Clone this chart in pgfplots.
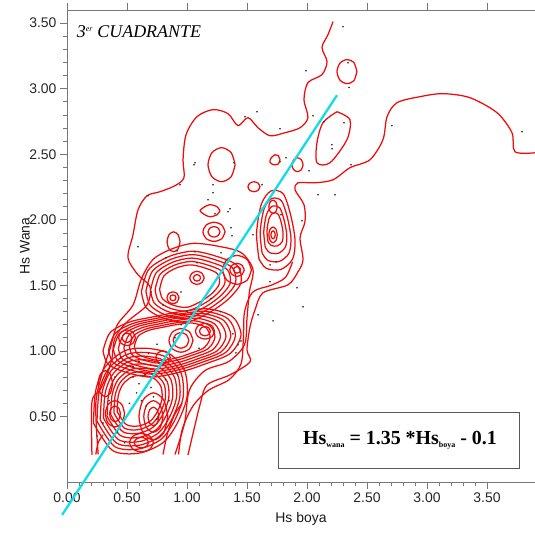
\documentclass[border=0pt]{standalone}
\usepackage{pgfplots}
\pgfplotsset{compat=1.18}
\usepackage{fontspec}
\setmainfont{Liberation Sans}
\newfontfamily\serif{Liberation Serif}
\definecolor{axgray}{RGB}{120,120,120}
\definecolor{cyanline}{RGB}{20,220,230}
\definecolor{ctred}{RGB}{240,10,10}
\begin{document}
\begin{tikzpicture}
\path[use as bounding box] (-67bp,-51bp) rectangle (468bp,482bp);
\begin{axis}[
  at={(0,0)}, anchor=south west,
  scale only axis, width=468bp, height=472bp,
  xmin=0, xmax=3.9, ymin=0, ymax=3.6,
  axis y line*=left, axis x line*=bottom,
  axis line style={axgray, line width=0.8bp, -},
  xtick={0,0.5,...,3.5}, ytick={0.5,1,...,3.5},
  minor x tick num=4, minor y tick num=4,
  tick align=outside,
  major tick length=7bp, minor tick length=4bp,
  tick style={axgray, line width=0.7bp},
  /pgf/number format/assume math mode=true,
  /pgf/number format/.cd, fixed, fixed zerofill, precision=2, /pgfplots/.cd,
  ticklabel style={font=\fontsize{14}{16}\selectfont, text=black!85},
  xlabel={Hs boya}, ylabel={Hs Wana},
  label style={font=\fontsize{14}{16}\selectfont, text=black!90},
  xlabel style={at={(axis description cs:0.5,0)}, anchor=north, yshift=-30bp, inner sep=0pt},
  ylabel style={at={(axis description cs:0,0.5)}, anchor=center, yshift=42bp, inner sep=0pt},
  clip=false,
  ct/.style={ctred, line width=1.25bp, smooth, mark=none},
]
% ---- outer contour, two branches
\addplot[ct] coordinates {(2.217,3.511)(2.175,3.412)(2.125,3.313)(2.167,3.206)(2.125,3.107)(2.008,3.046)(1.975,2.916)(2.008,2.779)(1.942,2.702)(1.817,2.664)(1.692,2.641)(1.592,2.702)(1.508,2.779)(1.425,2.718)(1.342,2.809)(1.217,2.840)(1.083,2.786)(0.992,2.649)(0.967,2.458)(0.975,2.321)(0.900,2.260)(0.775,2.214)(0.667,2.183)(0.592,2.076)(0.550,1.885)(0.508,1.710)(0.592,1.580)(0.692,1.489)(0.667,1.351)(0.500,1.221)(0.400,1.099)(0.375,0.947)(0.342,0.840)(0.275,0.702)(0.208,0.611)(0.208,0.206)};
\addplot[ct] coordinates {(3.9,2.511)(3.733,2.519)(3.708,2.664)(3.583,2.817)(3.358,2.931)(3.133,2.962)(2.942,2.939)(2.750,2.893)(2.667,2.786)(2.633,2.611)(2.525,2.458)(2.358,2.397)(2.217,2.305)(2.067,2.282)(1.925,2.282)(1.900,2.229)(1.975,2.115)(1.983,1.985)(1.942,1.863)(1.967,1.695)(1.925,1.603)(1.842,1.504)(1.633,1.443)(1.567,1.313)(1.525,1.183)(1.500,1.008)(1.525,0.916)(1.358,0.817)(1.167,0.740)(1.108,0.588)(1.067,0.435)(1.008,0.206)};
% ---- right arm ellipse and small circle
\addplot[ct] coordinates {(2.25,2.824)(2.358,2.763)(2.333,2.611)(2.192,2.435)(2.083,2.435)(2.083,2.588)(2.133,2.740)(2.25,2.824)};
\addplot[ct] coordinates {(2.416,3.13)(2.39,3.20)(2.333,3.222)(2.275,3.195)(2.25,3.13)(2.275,3.065)(2.333,3.038)(2.39,3.06)(2.416,3.13)};
% ---- upper middle loops
\addplot[ct] coordinates {(1.401,2.42)(1.368,2.512)(1.288,2.55)(1.208,2.512)(1.175,2.42)(1.208,2.328)(1.288,2.29)(1.368,2.328)(1.401,2.42)};
\addplot[ct] coordinates {(1.775,2.458)(1.76,2.49)(1.733,2.496)(1.70,2.47)(1.691,2.44)(1.72,2.42)(1.76,2.425)(1.775,2.458)};
\addplot[ct] coordinates {(1.967,2.42)(1.954,2.457)(1.921,2.473)(1.888,2.457)(1.875,2.42)(1.888,2.383)(1.921,2.367)(1.954,2.383)(1.967,2.42)};
\addplot[ct] coordinates {(1.608,2.252)(1.593,2.279)(1.558,2.29)(1.523,2.279)(1.508,2.252)(1.523,2.225)(1.558,2.214)(1.593,2.225)(1.608,2.252)};
\addplot[ct] coordinates {(1.275,2.069)(1.25,2.10)(1.19,2.115)(1.14,2.095)(1.109,2.069)(1.14,2.043)(1.19,2.023)(1.25,2.038)(1.275,2.069)};
\addplot[ct] coordinates {(1.317,1.908)(1.29,1.96)(1.225,1.981)(1.16,1.96)(1.133,1.908)(1.16,1.856)(1.225,1.835)(1.29,1.856)(1.317,1.908)};
\addplot[ct] coordinates {(1.275,1.908)(1.26,1.936)(1.225,1.948)(1.19,1.936)(1.175,1.908)(1.19,1.88)(1.225,1.868)(1.26,1.88)(1.275,1.908)};
\addplot[ct] coordinates {(0.942,1.832)(0.926,1.886)(0.888,1.908)(0.85,1.886)(0.834,1.832)(0.85,1.778)(0.888,1.756)(0.926,1.778)(0.942,1.832)};
% ---- right peak group
\addplot[ct] coordinates {(1.60,1.70)(1.58,1.90)(1.62,2.12)(1.70,2.22)(1.80,2.20)(1.86,2.05)(1.90,1.85)(1.88,1.70)(1.78,1.62)(1.66,1.63)(1.60,1.70)};
\addplot[ct] coordinates {(1.626,1.746)(1.61,1.906)(1.642,2.082)(1.706,2.162)(1.786,2.146)(1.834,2.026)(1.866,1.866)(1.85,1.746)(1.77,1.682)(1.674,1.69)(1.626,1.746)};
\addplot[ct] coordinates {(1.652,1.792)(1.64,1.912)(1.664,2.044)(1.712,2.104)(1.772,2.092)(1.808,2.002)(1.832,1.882)(1.82,1.792)(1.76,1.744)(1.688,1.75)(1.652,1.792)};
\addplot[ct] coordinates {(1.675,1.833)(1.667,1.917)(1.684,2.010)(1.717,2.052)(1.759,2.043)(1.785,1.980)(1.801,1.896)(1.793,1.833)(1.751,1.800)(1.701,1.804)(1.675,1.833)};
\addplot[ct] coordinates {(1.752,2.099)(1.742,2.134)(1.717,2.149)(1.692,2.134)(1.682,2.099)(1.692,2.064)(1.717,2.049)(1.742,2.064)(1.752,2.099)};
\addplot[ct] coordinates {(1.752,1.885)(1.742,1.927)(1.717,1.945)(1.692,1.927)(1.682,1.885)(1.692,1.843)(1.717,1.825)(1.742,1.843)(1.752,1.885)};
\addplot[ct] coordinates {(1.735,1.885)(1.73,1.906)(1.717,1.915)(1.704,1.906)(1.699,1.885)(1.704,1.864)(1.717,1.855)(1.73,1.864)(1.735,1.885)};
% ---- group A
\addplot[ct] coordinates {(0.62,1.45)(0.68,1.62)(0.85,1.72)(1.05,1.76)(1.25,1.72)(1.42,1.65)(1.45,1.52)(1.35,1.40)(1.20,1.30)(1.00,1.22)(0.80,1.25)(0.66,1.33)(0.62,1.45)};
\addplot[ct] coordinates {(0.658,1.455)(0.712,1.608)(0.865,1.698)(1.045,1.734)(1.225,1.698)(1.378,1.635)(1.405,1.518)(1.315,1.41)(1.18,1.32)(1.0,1.248)(0.82,1.275)(0.694,1.347)(0.658,1.455)};
\addplot[ct] coordinates {(0.696,1.46)(0.744,1.596)(0.88,1.676)(1.04,1.708)(1.2,1.676)(1.336,1.62)(1.36,1.516)(1.28,1.42)(1.16,1.34)(1.0,1.276)(0.84,1.30)(0.728,1.364)(0.696,1.46)};
\addplot[ct] coordinates {(0.734,1.465)(0.776,1.584)(0.895,1.654)(1.035,1.682)(1.175,1.654)(1.294,1.605)(1.315,1.514)(1.245,1.43)(1.14,1.36)(1.0,1.304)(0.86,1.325)(0.762,1.381)(0.734,1.465)};
\addplot[ct] coordinates {(0.772,1.47)(0.808,1.572)(0.91,1.632)(1.03,1.656)(1.15,1.632)(1.252,1.59)(1.27,1.512)(1.21,1.44)(1.12,1.38)(1.0,1.332)(0.88,1.35)(0.796,1.398)(0.772,1.47)};
% ---- group B
\addplot[ct] coordinates {(0.30,1.00)(0.36,1.14)(0.52,1.22)(0.72,1.26)(0.95,1.30)(1.18,1.32)(1.38,1.26)(1.45,1.12)(1.36,0.98)(1.15,0.90)(0.95,0.84)(0.70,0.80)(0.48,0.84)(0.34,0.90)(0.30,1.00)};
\addplot[ct] coordinates {(0.346,1.006)(0.402,1.135)(0.549,1.209)(0.733,1.246)(0.944,1.282)(1.156,1.301)(1.34,1.246)(1.404,1.117)(1.322,0.988)(1.128,0.914)(0.944,0.859)(0.714,0.822)(0.512,0.859)(0.383,0.914)(0.346,1.006)};
\addplot[ct] coordinates {(0.387,1.012)(0.438,1.131)(0.574,1.199)(0.744,1.233)(0.940,1.267)(1.135,1.284)(1.305,1.233)(1.365,1.114)(1.288,0.995)(1.110,0.927)(0.940,0.876)(0.727,0.842)(0.540,0.876)(0.421,0.927)(0.387,1.012)};
\addplot[ct] coordinates {(0.428,1.018)(0.474,1.127)(0.599,1.189)(0.755,1.220)(0.935,1.252)(1.114,1.267)(1.27,1.220)(1.325,1.111)(1.254,1.002)(1.091,0.940)(0.935,0.893)(0.740,0.862)(0.568,0.893)(0.459,0.940)(0.428,1.018)};
\addplot[ct] coordinates {(0.474,1.024)(0.516,1.122)(0.628,1.178)(0.768,1.206)(0.929,1.234)(1.09,1.248)(1.23,1.206)(1.279,1.108)(1.216,1.01)(1.069,0.954)(0.929,0.912)(0.754,0.884)(0.60,0.912)(0.502,0.954)(0.474,1.024)};
\addplot[ct] coordinates {(0.52,1.03)(0.558,1.117)(0.657,1.167)(0.781,1.192)(0.923,1.216)(1.066,1.229)(1.19,1.192)(1.233,1.105)(1.178,1.018)(1.047,0.968)(0.923,0.931)(0.768,0.906)(0.632,0.931)(0.545,0.968)(0.52,1.03)};
\addplot[ct] coordinates {(0.561,1.036)(0.594,1.113)(0.682,1.157)(0.792,1.179)(0.9185,1.201)(1.045,1.212)(1.155,1.179)(1.1935,1.102)(1.144,1.025)(1.0285,0.981)(0.9185,0.948)(0.781,0.926)(0.66,0.948)(0.583,0.981)(0.561,1.036)};
% ---- group C
\addplot[ct] coordinates {(0.22,0.45)(0.24,0.70)(0.32,0.88)(0.48,1.00)(0.66,1.02)(0.85,0.98)(0.98,0.85)(1.00,0.65)(0.92,0.45)(0.80,0.30)(0.60,0.22)(0.38,0.24)(0.22,0.45)};
\addplot[ct] coordinates {(0.250,0.464)(0.269,0.694)(0.342,0.859)(0.490,0.970)(0.655,0.988)(0.830,0.951)(0.950,0.832)(0.968,0.648)(0.894,0.464)(0.784,0.326)(0.60,0.252)(0.398,0.270)(0.250,0.464)};
\addplot[ct] coordinates {(0.277,0.475)(0.294,0.688)(0.362,0.841)(0.498,0.943)(0.651,0.96)(0.8125,0.926)(0.923,0.8155)(0.94,0.6455)(0.872,0.4755)(0.77,0.348)(0.60,0.28)(0.413,0.297)(0.277,0.475)};
\addplot[ct] coordinates {(0.304,0.487)(0.319,0.682)(0.382,0.823)(0.506,0.916)(0.647,0.932)(0.795,0.901)(0.896,0.799)(0.912,0.643)(0.850,0.487)(0.756,0.370)(0.60,0.308)(0.428,0.324)(0.304,0.487)};
\addplot[ct] coordinates {(0.334,0.501)(0.348,0.676)(0.404,0.802)(0.516,0.886)(0.642,0.90)(0.775,0.872)(0.866,0.781)(0.88,0.641)(0.824,0.501)(0.74,0.396)(0.60,0.34)(0.446,0.354)(0.334,0.501)};
\addplot[ct] coordinates {(0.364,0.515)(0.377,0.670)(0.426,0.781)(0.526,0.856)(0.637,0.868)(0.755,0.843)(0.836,0.763)(0.848,0.639)(0.798,0.515)(0.724,0.422)(0.60,0.372)(0.464,0.384)(0.364,0.515)};
\addplot[ct] coordinates {(0.391,0.5265)(0.402,0.664)(0.446,0.763)(0.534,0.829)(0.633,0.84)(0.7375,0.818)(0.809,0.7465)(0.82,0.6365)(0.776,0.5265)(0.71,0.444)(0.60,0.40)(0.479,0.411)(0.391,0.5265)};
\addplot[ct] coordinates {(0.418,0.538)(0.427,0.658)(0.466,0.745)(0.542,0.802)(0.629,0.812)(0.72,0.793)(0.782,0.730)(0.792,0.634)(0.754,0.538)(0.696,0.466)(0.60,0.428)(0.494,0.438)(0.418,0.538)};
% ---- extra nested loops in the dense cluster
\addplot[ct] coordinates {(0.84,0.50)(0.805,0.627)(0.72,0.68)(0.635,0.627)(0.60,0.50)(0.635,0.373)(0.72,0.32)(0.805,0.373)(0.84,0.50)};
\addplot[ct] coordinates {(0.80,0.50)(0.777,0.585)(0.72,0.62)(0.663,0.585)(0.64,0.50)(0.663,0.415)(0.72,0.38)(0.777,0.415)(0.80,0.50)};
\addplot[ct] coordinates {(0.765,0.50)(0.752,0.55)(0.72,0.57)(0.688,0.55)(0.675,0.50)(0.688,0.45)(0.72,0.43)(0.752,0.45)(0.765,0.50)};
\addplot[ct] coordinates {(1.05,1.08)(1.021,1.144)(0.95,1.17)(0.879,1.144)(0.85,1.08)(0.879,1.016)(0.95,0.99)(1.021,1.016)(1.05,1.08)};
\addplot[ct] coordinates {(1.015,1.08)(0.996,1.122)(0.95,1.14)(0.904,1.122)(0.885,1.08)(0.904,1.038)(0.95,1.02)(0.996,1.038)(1.015,1.08)};
\addplot[ct] coordinates {(0.38,0.75)(0.362,0.821)(0.32,0.85)(0.278,0.821)(0.26,0.75)(0.278,0.679)(0.32,0.65)(0.362,0.679)(0.38,0.75)};
% ---- peaks
\addplot[ct] coordinates {(0.933,1.405)(0.918,1.437)(0.883,1.45)(0.848,1.437)(0.833,1.405)(0.848,1.373)(0.883,1.36)(0.918,1.373)(0.933,1.405)};
\addplot[ct] coordinates {(0.908,1.405)(0.901,1.421)(0.883,1.427)(0.865,1.421)(0.858,1.405)(0.865,1.389)(0.883,1.383)(0.901,1.389)(0.908,1.405)};
\addplot[ct] coordinates {(1.143,1.557)(1.125,1.592)(1.083,1.607)(1.041,1.592)(1.023,1.557)(1.041,1.522)(1.083,1.507)(1.125,1.522)(1.143,1.557)};
\addplot[ct] coordinates {(1.113,1.557)(1.104,1.575)(1.083,1.582)(1.062,1.575)(1.053,1.557)(1.062,1.539)(1.083,1.532)(1.104,1.539)(1.113,1.557)};
\addplot[ct] coordinates {(1.537,1.618)(1.502,1.696)(1.417,1.728)(1.332,1.696)(1.297,1.618)(1.332,1.54)(1.417,1.508)(1.502,1.54)(1.537,1.618)};
\addplot[ct] coordinates {(1.477,1.618)(1.459,1.653)(1.417,1.668)(1.375,1.653)(1.357,1.618)(1.375,1.583)(1.417,1.568)(1.459,1.583)(1.477,1.618)};
\addplot[ct] coordinates {(1.447,1.618)(1.438,1.636)(1.417,1.643)(1.396,1.636)(1.387,1.618)(1.396,1.6)(1.417,1.593)(1.438,1.6)(1.447,1.618)};
\addplot[ct] coordinates {(0.57,1.10)(0.549,1.142)(0.50,1.16)(0.451,1.142)(0.43,1.10)(0.451,1.058)(0.50,1.04)(0.549,1.058)(0.57,1.10)};
\addplot[ct] coordinates {(0.54,1.10)(0.528,1.125)(0.50,1.135)(0.472,1.125)(0.46,1.10)(0.472,1.075)(0.50,1.065)(0.528,1.075)(0.54,1.10)};
\addplot[ct] coordinates {(1.23,1.15)(1.207,1.192)(1.15,1.21)(1.093,1.192)(1.07,1.15)(1.093,1.108)(1.15,1.09)(1.207,1.108)(1.23,1.15)};
\addplot[ct] coordinates {(1.195,1.15)(1.182,1.175)(1.15,1.185)(1.118,1.175)(1.105,1.15)(1.118,1.125)(1.15,1.115)(1.182,1.125)(1.195,1.15)};
\addplot[ct] coordinates {(0.48,0.52)(0.457,0.591)(0.40,0.62)(0.343,0.591)(0.32,0.52)(0.343,0.449)(0.40,0.42)(0.457,0.449)(0.48,0.52)};
\addplot[ct] coordinates {(0.445,0.52)(0.432,0.562)(0.40,0.58)(0.368,0.562)(0.355,0.52)(0.368,0.478)(0.40,0.46)(0.432,0.478)(0.445,0.52)};
\addplot[ct] coordinates {(0.86,0.95)(0.842,0.985)(0.80,1.0)(0.758,0.985)(0.74,0.95)(0.758,0.915)(0.80,0.90)(0.842,0.915)(0.86,0.95)};
\addplot[ct] coordinates {(0.72,0.30)(0.691,0.349)(0.62,0.37)(0.549,0.349)(0.52,0.30)(0.549,0.251)(0.62,0.23)(0.691,0.251)(0.72,0.30)};
\addplot[ct] coordinates {(0.68,0.30)(0.662,0.328)(0.62,0.34)(0.578,0.328)(0.56,0.30)(0.578,0.272)(0.62,0.26)(0.662,0.272)(0.68,0.30)};
% ---- secondary open contours
\addplot[ct] coordinates {(0.26,0.21)(0.24,0.60)(0.30,0.85)(0.36,1.02)(0.42,1.20)(0.55,1.35)(0.62,1.55)(0.72,1.70)(0.88,1.78)(1.05,1.82)(1.25,1.80)(1.45,1.75)(1.55,1.62)(1.52,1.45)(1.50,1.25)(1.48,1.05)(1.35,0.92)(1.15,0.85)(1.02,0.70)(0.98,0.45)(0.90,0.21)};
\addplot[ct] coordinates {(0.93,0.21)(0.96,0.40)(1.05,0.58)(1.18,0.70)(1.35,0.78)(1.45,0.90)(1.47,1.10)(1.48,1.30)(1.55,1.45)(1.70,1.50)(1.82,1.56)(1.88,1.68)};
\addplot[ct] coordinates {(0.80,0.21)(0.84,0.38)(0.90,0.52)(0.96,0.60)};
\addplot[ct] coordinates {(0.24,0.21)(0.26,0.30)(0.30,0.36)};
% ---- data points
\addplot[only marks, mark=*, mark size=0.6bp, black!80] coordinates {
(2.3,3.473)(1.992,3.137)(2.35,3.008)(2.342,3.198)(2.05,2.794)(2.142,2.748)(2.308,2.74)(2.208,2.573)(2.208,2.542)(2.708,2.718)(3.792,2.672)(1.775,2.443)(1.825,2.473)(2.017,2.374)(2.367,2.42)(2.233,2.191)(2.092,2.191)(1.775,2.695)(1.583,2.824)(1.483,2.786)(1.067,2.435)(1.392,2.435)(1.217,2.267)(1.058,2.42)(0.942,2.267)(0.675,2.183)(1.217,2.206)(1.175,2.153)(1.358,2.084)(1.233,2.046)(0.592,1.794)(0.825,1.710)(0.917,1.763)(1.067,1.756)(1.083,1.672)(1.283,1.748)(1.375,1.878)(1.625,2.267)(1.783,2.038)(1.958,1.992)(1.342,2.061)(1.367,1.939)(1.55,1.885)(1.692,1.656)(1.742,1.679)(1.692,1.527)(1.917,1.481)(1.967,1.336)(1.717,1.229)(1.592,1.275)(1.45,1.076)(1.408,0.985)(1.425,1.046)(1.383,1.130)
(0.55,0.80)(0.60,0.75)(0.65,0.82)(0.58,0.68)(0.62,0.62)(0.70,0.72)(0.52,0.60)(0.66,0.58)(0.72,0.65)(0.55,0.88)(0.60,0.92)(0.68,0.98)(0.75,1.05)(0.45,0.95)(0.40,0.80)(0.35,0.62)(0.30,0.45)(0.42,0.38)(0.48,0.30)(0.75,0.48)(0.82,0.78)(0.90,1.10)(0.95,1.20)(1.00,1.30)(0.80,1.35)(0.70,1.45)(0.95,1.45)(1.20,1.40)(1.28,1.30)(1.10,1.02)(0.85,0.62)(0.92,0.82)(0.25,0.35)};
% ---- regression line
\addplot[cyanline, line width=2.3bp, mark=none] coordinates {(-0.04,-0.25)(2.25,2.95)};
% ---- annotations
\node[anchor=base west, inner sep=0pt] at (axis cs:0.08,3.39) {\serif\itshape\fontsize{18}{20}\selectfont 3\textsuperscript{\fontsize{8}{8}\selectfont er} CUADRANTE};
\draw[black!65, line width=0.8bp] (axis cs:1.758,0.107) rectangle (axis cs:3.767,0.534);
\node[inner sep=0pt] at (axis cs:2.775,0.32) {\serif\bfseries\fontsize{20}{22}\selectfont Hs\raisebox{-0.35ex}{\fontsize{8}{8}\selectfont wana} = 1.35 *Hs\raisebox{-0.35ex}{\fontsize{8}{8}\selectfont boya} - 0.1};
\end{axis}
\begin{axis}[
  at={(0,0)}, anchor=south west,
  scale only axis, width=468bp, height=472bp,
  xmin=0, xmax=3.9, ymin=0, ymax=3.6,
  axis x line*=top, axis y line=none,
  axis line style={axgray, line width=0.8bp, -},
  xtick={0,0.5,...,3.5}, xticklabels={},
  tick align=outside, major tick length=7bp,
  tick style={axgray, line width=0.7bp},
]
\end{axis}
\end{tikzpicture}
\end{document}
